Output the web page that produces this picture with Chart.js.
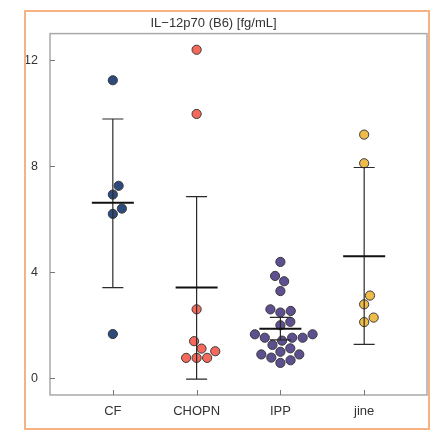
<!DOCTYPE html>
<html>
<head>
<meta charset="utf-8">
<script src="https://cdn.jsdelivr.net/npm/chart.js@4/dist/chart.umd.min.js"></script>
<style>
  body { margin: 0; background: #fff; }
  #wrap { position: relative; width: 436px; height: 433px; }
  #myChart { position: absolute; left: 0; top: 0; }
  #frame {
    position: absolute; left: 24px; top: 10px; width: 406px; height: 420px;
    box-sizing: border-box; border: 2px solid #f6b282; pointer-events: none;
  }
</style>
</head>
<body>
<div id="wrap">
  <canvas id="myChart" width="436" height="433"></canvas>
  <div id="frame"></div>
</div>
<script>
// values
var categories = ['CF', 'CHOPN', 'IPP', 'jine'];
var cfValues = [11.24, 7.26, 6.93, 6.40, 6.20, 1.67];
var chopnValues = [12.39, 9.97, 2.60, 1.40, 1.12, 1.02, 0.77, 0.77, 0.77];
var ippValues = [4.39, 3.86, 3.66, 3.29, 2.60, 2.54, 2.48, 2.13, 2.00, 1.66, 1.66,
                 1.53, 1.53, 1.53, 1.42, 1.26, 1.13, 1.00, 0.90, 0.90, 0.78, 0.68, 0.58];
var jineValues = [9.19, 8.11, 3.12, 2.79, 2.29, 2.12];
var means = [6.62, 3.42, 1.87, 4.60];
var errLow = [3.42, -0.03, 1.45, 1.28];
var errHigh = [9.78, 6.85, 2.30, 7.95];
var yTicks = [0, 4, 8, 12];

var groups = [cfValues, chopnValues, ippValues, jineValues];
var colors = ['#2c4a7e', '#f5695c', '#5e5090', '#efbb49'];

var datasets = groups.map(function (vals, i) {
    return {
        label: categories[i],
        data: vals.map(function (v) { return { x: i + 1, y: v }; }),
        backgroundColor: colors[i],
        borderColor: '#3a3a3a',
        borderWidth: 1,
        pointRadius: 4.6,
        pointHoverRadius: 4.6
    };
});

// box around plot area + inward tick marks
var framePlugin = {
    id: 'frame',
    beforeDatasetsDraw: function (chart) {
        var a = chart.chartArea, ctx = chart.ctx;
        var xs = chart.scales.x, ys = chart.scales.y;
        ctx.save();
        ctx.strokeStyle = '#a9a9a9';
        ctx.lineWidth = 1.5;
        ctx.strokeRect(a.left, a.top, a.right - a.left, a.bottom - a.top);
        ctx.strokeStyle = '#777';
        ctx.lineWidth = 1;
        ctx.beginPath();
        yTicks.forEach(function (t) {
            var y = Math.round(ys.getPixelForValue(t)) + 0.5;
            ctx.moveTo(a.left, y); ctx.lineTo(a.left + 5, y);
        });
        categories.forEach(function (c, i) {
            var x = Math.round(xs.getPixelForValue(i + 1)) + 0.5;
            ctx.moveTo(x, a.bottom); ctx.lineTo(x, a.bottom - 5);
        });
        ctx.stroke();
        ctx.restore();
    }
};

// mean line and error bars per group
var summaryPlugin = {
    id: 'summary',
    afterDatasetsDraw: function (chart) {
        var ctx = chart.ctx, xs = chart.scales.x, ys = chart.scales.y;
        ctx.save();
        categories.forEach(function (c, i) {
            var xc = xs.getPixelForValue(i + 1);
            var lo = ys.getPixelForValue(errLow[i]);
            var hi = ys.getPixelForValue(errHigh[i]);
            var m = ys.getPixelForValue(means[i]);
            ctx.strokeStyle = '#2a2a2a';
            ctx.lineWidth = 1.2;
            ctx.beginPath();
            ctx.moveTo(xc, lo); ctx.lineTo(xc, hi);
            ctx.moveTo(xc - 10.5, lo); ctx.lineTo(xc + 10.5, lo);
            ctx.moveTo(xc - 10.5, hi); ctx.lineTo(xc + 10.5, hi);
            ctx.stroke();
            ctx.strokeStyle = '#111';
            ctx.lineWidth = 2;
            ctx.beginPath();
            ctx.moveTo(xc - 21, m); ctx.lineTo(xc + 21, m);
            ctx.stroke();
        });
        ctx.restore();
    }
};

var ctx1 = document.getElementById('myChart').getContext('2d');
var myChart = new Chart(ctx1, {
    type: 'scatter',
    data: { datasets: datasets },
    plugins: [framePlugin, summaryPlugin],
    options: {
        responsive: false,
        animation: false,
        layout: { padding: { left: 0, right: 9, top: 0, bottom: 0 } },
        plugins: {
            legend: { display: false },
            tooltip: { enabled: false },
            title: {
                display: true,
                text: 'IL\u221212p70 (B6) [fg/mL]',
                color: '#333',
                font: { family: 'Liberation Sans, Arial, sans-serif', size: 13, weight: 'normal' },
                padding: { top: 15.5, bottom: 2.5 }
            }
        },
        scales: {
            x: {
                type: 'linear',
                min: 0.25,
                max: 4.75,
                afterFit: function (s) { s.height = 38; },
                afterBuildTicks: function (s) {
                    s.ticks = categories.map(function (c, i) { return { value: i + 1 }; });
                },
                ticks: {
                    padding: 9,
                    color: '#333',
                    font: { family: 'Liberation Sans, Arial, sans-serif', size: 13 },
                    callback: function (v) { return categories[v - 1]; }
                },
                grid: { display: false, drawTicks: false },
                border: { display: false }
            },
            y: {
                min: -0.63,
                max: 13.0,
                afterFit: function (s) { s.width = 50; },
                afterBuildTicks: function (s) {
                    s.ticks = yTicks.map(function (t) { return { value: t }; });
                },
                ticks: {
                    padding: 12,
                    color: '#333',
                    font: { family: 'Liberation Sans, Arial, sans-serif', size: 12.5 }
                },
                grid: { display: false, drawTicks: false },
                border: { display: false }
            }
        }
    }
});

// beeswarm: spread points sideways so they don't overlap (pixel space)
function swarmOffsets(vals, ys, d) {
    var py = vals.map(function (v) { return ys.getPixelForValue(v); });
    var order = vals.map(function (v, i) { return i; }).sort(function (a, b) { return vals[a] - vals[b]; });
    var placed = [], offs = [];
    order.forEach(function (i) {
        var cands = [0];
        placed.forEach(function (p) {
            var dy = Math.abs(py[i] - p.y);
            if (dy < d) {
                var dx = Math.sqrt(d * d - dy * dy);
                cands.push(p.x + dx, p.x - dx);
            }
        });
        cands.sort(function (a, b) { return Math.abs(a) - Math.abs(b) || b - a; });
        var ok = cands.find(function (c) {
            return placed.every(function (p) {
                return (c - p.x) * (c - p.x) + (py[i] - p.y) * (py[i] - p.y) >= d * d - 0.01;
            });
        });
        offs[i] = ok;
        placed.push({ x: ok, y: py[i] });
    });
    return offs;
}

var xs = myChart.scales.x, ys = myChart.scales.y;
var pxPerUnit = xs.getPixelForValue(2) - xs.getPixelForValue(1);
groups.forEach(function (vals, g) {
    var offs = swarmOffsets(vals, ys, 10.5);
    myChart.data.datasets[g].data.forEach(function (pt, k) {
        pt.x = g + 1 + offs[k] / pxPerUnit;
    });
});
myChart.update('none');
</script>
</body>
</html>
